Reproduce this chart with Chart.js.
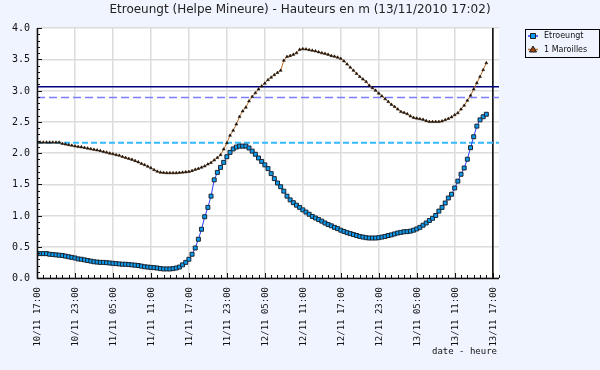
<!DOCTYPE html>
<html><head><meta charset="utf-8">
<style>html,body{margin:0;padding:0;background:#f0f4fe;}canvas{display:block}</style>
<script src="https://cdn.jsdelivr.net/npm/chart.js@4/dist/chart.umd.min.js"></script>
</head><body>
<canvas id="c" width="600" height="370"></canvas>
<script>
// ---- data (hours since 10/11 17:00, 30-minute samples) ----
const chartTitle = 'Etroeungt (Helpe Mineure) - Hauteurs en m (13/11/2010 17:02)';
const seriesNames = ['Etroeungt', '1 Maroilles'];
const sampleStepHours = 0.5;
const etroeungt = [
  0.39,0.39,0.39,0.39,
  0.38,0.375,0.37,0.365,0.36,0.35,0.34,0.33,
  0.32,0.305,0.30,0.29,0.28,0.27,0.26,0.255,
  0.25,0.25,0.245,0.24,0.235,0.23,0.225,0.22,
  0.22,0.215,0.21,0.205,0.20,0.19,0.18,0.175,
  0.17,0.165,0.16,0.15,0.145,0.145,0.145,0.15,
  0.16,0.175,0.21,0.25,0.30,0.38,0.48,0.62,
  0.78,0.98,1.13,1.31,1.57,1.69,1.77,1.85,
  1.94,2.01,2.065,2.095,2.11,2.11,2.11,2.08,
  2.03,1.98,1.92,1.865,1.81,1.75,1.67,1.59,
  1.52,1.46,1.39,1.31,1.25,1.205,1.165,1.13,
  1.09,1.055,1.02,0.985,0.96,0.935,0.91,0.88,
  0.855,0.835,0.81,0.79,0.765,0.745,0.725,0.71,
  0.695,0.68,0.665,0.655,0.645,0.64,0.64,0.64,
  0.645,0.655,0.665,0.68,0.69,0.705,0.72,0.73,
  0.74,0.742,0.75,0.765,0.785,0.81,0.845,0.88,
  0.92,0.955,1.00,1.07,1.13,1.20,1.28,1.34,
  1.44,1.55,1.66,1.76,1.90,2.085,2.26,2.43,
  2.53,2.58,2.62
];
const maroilles = [
  2.17,2.17,2.17,2.17,2.17,2.17,2.17,2.17,
  2.15,2.14,2.13,2.12,2.11,2.10,2.095,2.085,
  2.075,2.065,2.055,2.045,2.035,2.02,2.01,1.995,
  1.985,1.97,1.96,1.94,1.925,1.91,1.895,1.875,
  1.855,1.83,1.81,1.785,1.76,1.73,1.705,1.69,
  1.685,1.68,1.68,1.68,1.68,1.685,1.69,1.695,
  1.70,1.715,1.735,1.75,1.77,1.79,1.82,1.845,
  1.885,1.925,1.97,2.06,2.16,2.28,2.36,2.46,
  2.58,2.67,2.73,2.83,2.90,2.96,3.02,3.07,
  3.115,3.17,3.21,3.25,3.285,3.32,3.48,3.54,
  3.555,3.575,3.60,3.655,3.665,3.66,3.65,3.64,
  3.63,3.615,3.60,3.59,3.575,3.555,3.545,3.53,
  3.51,3.47,3.42,3.37,3.32,3.27,3.22,3.18,
  3.14,3.08,3.04,3.00,2.955,2.91,2.865,2.82,
  2.775,2.74,2.70,2.66,2.645,2.625,2.59,2.565,
  2.555,2.545,2.535,2.515,2.50,2.50,2.50,2.50,
  2.51,2.53,2.55,2.575,2.61,2.64,2.70,2.76,
  2.84,2.92,3.02,3.12,3.22,3.33,3.44
];
const thresholdNavy = 3.06;
const thresholdViolet = 2.89;
const thresholdCyan = 2.165;
const nowHour = 72.03;
const xRange = [0, 73];
const yRange = [0, 4];
const xTickHours = [0,6,12,18,24,30,36,42,48,54,60,66,72];
const xTickLabels = ['10/11 17:00','10/11 23:00','11/11 05:00','11/11 11:00','11/11 17:00','11/11 23:00',
  '12/11 05:00','12/11 11:00','12/11 17:00','12/11 23:00','13/11 05:00','13/11 11:00','13/11 17:00'];
const yTickValues = [0,0.5,1,1.5,2,2.5,3,3.5,4];
const yTickLabels = ['0.0','0.5','1.0','1.5','2.0','2.5','3.0','3.5','4.0'];
const xAxisTitle = 'date - heure';

// ---- build ----
const toPts = arr => arr.map((v, i) => ({x: i * sampleStepHours, y: v}));
const hLine = v => [{x: xRange[0], y: v}, {x: xRange[1], y: v}];
const pageBg = '#f0f4fe';

const decor = {
  id: 'decor',
  beforeDraw(chart) {
    const {ctx, chartArea: a} = chart;
    ctx.save();
    ctx.fillStyle = pageBg; ctx.fillRect(0, 0, chart.width, chart.height);
    ctx.fillStyle = '#ffffff'; ctx.fillRect(a.left, a.top, a.right - a.left, a.bottom - a.top);
    ctx.restore();
  },
  afterDraw(chart) {
    const {ctx, chartArea: a, scales: {x, y}} = chart;
    ctx.save();
    // axis lines
    ctx.strokeStyle = '#111'; ctx.lineWidth = 1.5;
    ctx.beginPath();
    ctx.moveTo(a.left + 0.5, a.top); ctx.lineTo(a.left + 0.5, a.bottom + 0.5);
    ctx.lineTo(a.right, a.bottom + 0.5);
    ctx.stroke();
    // y ticks
    ctx.lineWidth = 1;
    for (let k = 0; k <= 40; k++) {
      const py = Math.round(y.getPixelForValue(k / 10)) + 0.5;
      const len = (k % 5 === 0) ? 5 : 3;
      ctx.beginPath(); ctx.moveTo(a.left, py); ctx.lineTo(a.left + len, py); ctx.stroke();
    }
    // x ticks
    for (let h = 0; h <= 73; h++) {
      const px = Math.round(x.getPixelForValue(h)) + 0.5;
      const len = (h % 6 === 0) ? 5 : 3;
      ctx.beginPath(); ctx.moveTo(px, a.bottom); ctx.lineTo(px, a.bottom - len); ctx.stroke();
    }
    // labels
    ctx.fillStyle = '#111';
    ctx.font = '10px "DejaVu Sans Mono"';
    ctx.textAlign = 'right'; ctx.textBaseline = 'middle';
    yTickValues.forEach((v, i) => ctx.fillText(yTickLabels[i], a.left - 7, y.getPixelForValue(v) + 0.5));
    ctx.font = '9px "DejaVu Sans Mono"';
    xTickHours.forEach((h, i) => {
      ctx.save();
      ctx.translate(x.getPixelForValue(h) + 1, a.bottom + 9);
      ctx.rotate(-Math.PI / 2);
      ctx.textAlign = 'right'; ctx.textBaseline = 'middle';
      ctx.fillText(xTickLabels[i], 0, 0);
      ctx.restore();
    });
    ctx.textAlign = 'right'; ctx.textBaseline = 'middle';
    ctx.fillText(xAxisTitle, 497, 352);
    // title
    ctx.font = '12px "DejaVu Sans"'; ctx.fillStyle = '#222';
    ctx.textAlign = 'center'; ctx.textBaseline = 'middle';
    ctx.fillText(chartTitle, 300, 10);
    // legend
    ctx.strokeStyle = '#000'; ctx.lineWidth = 1;
    ctx.strokeRect(525.5, 29.5, 74, 28);
    ctx.font = '8px "DejaVu Sans"'; ctx.fillStyle = '#111';
    ctx.textAlign = 'left';
    const ds = chart.data.datasets;
    [0, 1].forEach((i, r) => {
      const ly = 36 + r * 13.5;
      ctx.strokeStyle = ds[i].borderColor; ctx.lineWidth = 1.5;
      ctx.beginPath(); ctx.moveTo(528, ly); ctx.lineTo(538, ly); ctx.stroke();
      ctx.fillStyle = i === 0 ? ds[0].pointBackgroundColor : '#a0450f';
      ctx.strokeStyle = '#222'; ctx.lineWidth = 1;
      ctx.beginPath();
      if (i === 0) { ctx.rect(530.5, ly - 2.5, 5, 5); }
      else { ctx.moveTo(533, ly - 3.5); ctx.lineTo(536.5, ly + 2.5); ctx.lineTo(529.5, ly + 2.5); ctx.closePath(); }
      ctx.fill(); ctx.stroke();
      ctx.fillStyle = '#111';
      ctx.fillText(seriesNames[i], 544, ly);
    });
    ctx.restore();
  }
};

new Chart(document.getElementById('c'), {
  type: 'line',
  data: {
    datasets: [
      {label: seriesNames[0], data: toPts(etroeungt), borderColor: '#2a3cff', borderWidth: 1,
       pointStyle: 'rect', pointRadius: 2.8, pointBackgroundColor: '#0a9cf0', pointBorderColor: '#1c2430',
       pointBorderWidth: 1, tension: 0},
      {label: seriesNames[1], data: toPts(maroilles), borderColor: '#c0702a', borderWidth: 1,
       pointStyle: 'triangle', pointRadius: 1.7, pointBackgroundColor: '#1a1008', pointBorderColor: '#1a1008',
       pointBorderWidth: 0.5, tension: 0},
      {label: 'navy', data: hLine(thresholdNavy), borderColor: '#000080', borderWidth: 1.5, pointRadius: 0},
      {label: 'violet', data: hLine(thresholdViolet), borderColor: '#7c7cff', borderWidth: 1.5,
       borderDash: [8, 4], pointRadius: 0},
      {label: 'cyan', data: hLine(thresholdCyan), borderColor: '#33bbff', borderWidth: 2,
       borderDash: [6, 3], pointRadius: 0},
      {label: 'now', data: [{x: nowHour, y: yRange[0]}, {x: nowHour, y: yRange[1]}], borderColor: '#000',
       borderWidth: 1.5, pointRadius: 0}
    ]
  },
  options: {
    responsive: false, animation: false, devicePixelRatio: 1,
    layout: {padding: {left: 37, top: 28, right: 101, bottom: 92}},
    plugins: {legend: {display: false}, tooltip: {enabled: false}, title: {display: false}},
    scales: {
      x: {type: 'linear', min: xRange[0], max: xRange[1],
          afterBuildTicks: s => { s.ticks = xTickHours.map(v => ({value: v})); },
          ticks: {display: false}, border: {display: false},
          grid: {color: '#dcdcdc', lineWidth: 1.5, drawTicks: false}},
      y: {type: 'linear', min: yRange[0], max: yRange[1],
          afterBuildTicks: s => { s.ticks = yTickValues.map(v => ({value: v})); },
          ticks: {display: false}, border: {display: false},
          grid: {color: '#dcdcdc', lineWidth: 1.5, drawTicks: false}}
    }
  },
  plugins: [decor]
});
</script>
</body></html>
